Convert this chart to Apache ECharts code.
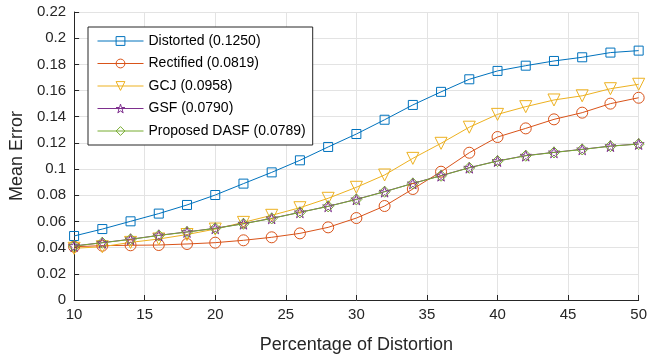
<!DOCTYPE html>
<html>
<head>
<meta charset="utf-8">
<script src="https://cdn.jsdelivr.net/npm/echarts@6/dist/echarts.min.js"></script>
<style>
  html, body { margin: 0; padding: 0; background: #fff; }
  #chart { width: 650px; height: 359px; }
</style>
</head>
<body>
<div id="chart"></div>
<script>
// percentage of distortion
var xValues = [10, 12, 14, 16, 18, 20, 22, 24, 26, 28, 30, 32, 34, 36, 38, 40, 42, 44, 46, 48, 50]

var distorted = [0.0489, 0.0542, 0.0601, 0.0660, 0.0726, 0.0802, 0.0889, 0.0975, 0.1067, 0.1169, 0.1268,
  0.1377, 0.1490, 0.1590, 0.1686, 0.1750, 0.1790, 0.1826, 0.1854, 0.1890, 0.1905]
var rectified = [0.0407, 0.0415, 0.0418, 0.0420, 0.0428, 0.0438, 0.0456, 0.0479, 0.0509, 0.0555, 0.0626,
  0.0718, 0.0848, 0.0980, 0.1125, 0.1245, 0.1311, 0.1380, 0.1431, 0.1500, 0.1545]
var gcj = [0.0395, 0.0407, 0.0440, 0.0466, 0.0500, 0.0542, 0.0593, 0.0647, 0.0705, 0.0777, 0.0861,
  0.0955, 0.1082, 0.1197, 0.1320, 0.1418, 0.1477, 0.1528, 0.1560, 0.1614, 0.1648]
var gsf = [0.0413, 0.0438, 0.0464, 0.0494, 0.0520, 0.0548, 0.0583, 0.0624, 0.0670, 0.0716, 0.0769,
  0.0828, 0.0891, 0.0950, 0.1011, 0.1062, 0.1103, 0.1128, 0.1151, 0.1176, 0.1192]
var dasf = [0.0412, 0.0437, 0.0463, 0.0493, 0.0519, 0.0547, 0.0582, 0.0623, 0.0669, 0.0715, 0.0768,
  0.0827, 0.0890, 0.0949, 0.1010, 0.1061, 0.1102, 0.1127, 0.1150, 0.1175, 0.1191]

var seriesNames = ['Distorted (0.1250)', 'Rectified (0.0819)', 'GCJ (0.0958)', 'GSF (0.0790)', 'Proposed DASF (0.0789)']

var colors = ['#0072BD', '#D95319', '#EDB120', '#7E2F8E', '#77AC30']
var starPath = 'path://M50,0 L61,35 L98,35 L68,57 L79,91 L50,70 L21,91 L32,57 L2,35 L39,35 Z'
var triDownPath = 'path://M0,0 L100,0 L50,87 Z'
var symbols = ['rect', 'circle', triDownPath, starPath, 'diamond']
var sizes = [9, 11, 12, 11, 11]
var font = 'Liberation Sans, Arial, sans-serif'

function pairs(vals) {
  return vals.map(function (v, i) { return [xValues[i], v] })
}

function hollow(idx) {
  return { color: 'rgba(255,255,255,0)', borderColor: colors[idx], borderWidth: 1 }
}

function makeSeries(name, vals, idx) {
  return {
    name: name,
    type: 'line',
    data: pairs(vals),
    symbol: symbols[idx],
    symbolSize: sizes[idx],
    showAllSymbol: true,
    color: colors[idx],
    lineStyle: { color: colors[idx], width: 1 },
    itemStyle: hollow(idx),
    emphasis: { disabled: true },
    animation: false
  }
}

var chart = echarts.init(document.getElementById('chart'))
chart.setOption({
  backgroundColor: '#fff',
  textStyle: { fontFamily: font },
  grid: { left: 72, right: 10, top: 12, bottom: 59 },
  legend: {
    orient: 'vertical',
    left: 88,
    top: 27,
    padding: [7, 7, 7, 9],
    itemGap: 8.5,
    itemWidth: 46,
    itemHeight: 11,
    borderColor: '#262626',
    borderWidth: 1,
    backgroundColor: '#fff',
    textStyle: { fontSize: 14, color: '#000', fontFamily: font },
    data: seriesNames.map(function (n, i) {
      return {
        name: n,
        itemStyle: hollow(i),
        lineStyle: { color: colors[i], width: 1 }
      }
    })
  },
  xAxis: {
    type: 'value',
    min: 10,
    max: 50,
    interval: 5,
    name: 'Percentage of Distortion',
    nameLocation: 'middle',
    nameGap: 36,
    nameTextStyle: { fontSize: 18, color: '#262626' },
    axisLine: { lineStyle: { color: '#262626', width: 1 } },
    axisTick: { inside: true, length: 5, lineStyle: { color: '#262626' } },
    axisLabel: { fontSize: 15, color: '#262626', margin: 7 },
    splitLine: { show: true, lineStyle: { color: '#e3e3e3', width: 1 } }
  },
  yAxis: {
    type: 'value',
    min: 0,
    max: 0.22,
    interval: 0.02,
    name: 'Mean Error',
    nameLocation: 'middle',
    nameGap: 44,
    nameTextStyle: { fontSize: 18, color: '#262626' },
    axisLine: { show: true, lineStyle: { color: '#262626', width: 1 } },
    axisTick: { show: true, inside: true, length: 5, lineStyle: { color: '#262626' } },
    axisLabel: {
      fontSize: 15, color: '#262626', margin: 8,
      formatter: function (v) { return String(parseFloat(v.toFixed(2))) }
    },
    splitLine: { show: true, lineStyle: { color: '#e3e3e3', width: 1 } }
  },
  series: [
    makeSeries(seriesNames[0], distorted, 0),
    makeSeries(seriesNames[1], rectified, 1),
    makeSeries(seriesNames[2], gcj, 2),
    makeSeries(seriesNames[3], gsf, 3),
    makeSeries(seriesNames[4], dasf, 4)
  ]
})
</script>
</body>
</html>
